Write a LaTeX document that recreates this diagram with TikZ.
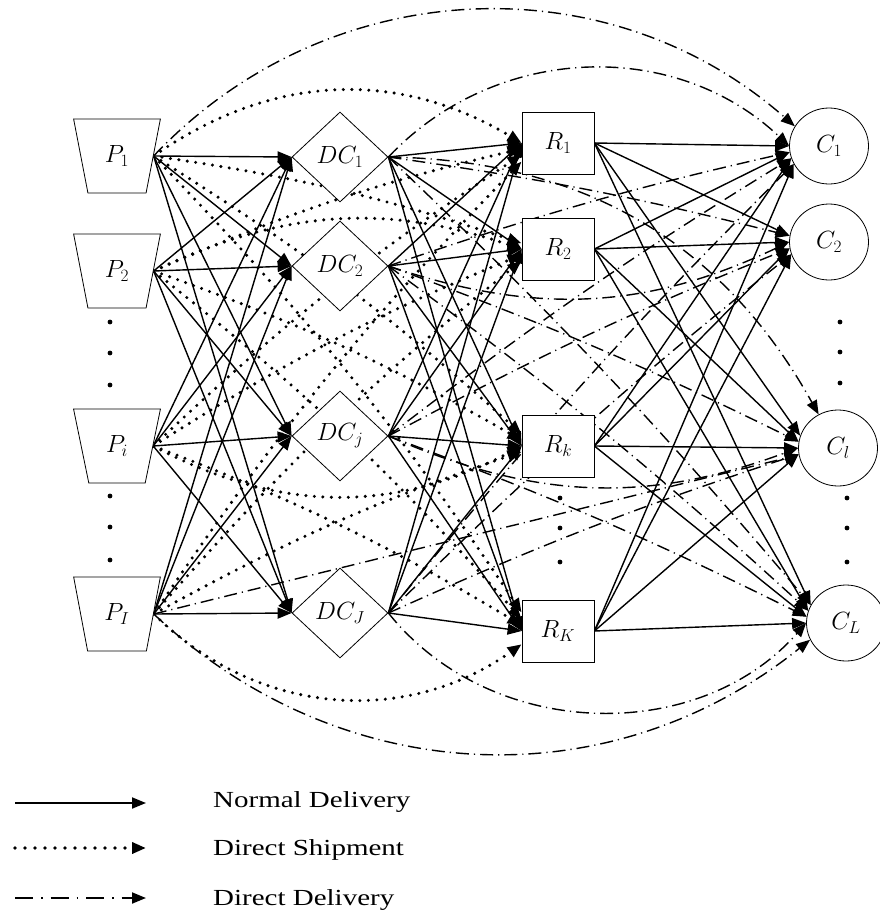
\documentclass[tikz,border=0pt]{standalone}
\usepackage{fontspec}
\setmainfont{Liberation Serif}
\newfontfamily\legendfont[FakeStretch=1.26]{Liberation Serif}
\usepackage{amsmath}
\usetikzlibrary{shapes.geometric,arrows.meta}
\pgfdeclarelayer{background}
\pgfsetlayers{background,main}

\begin{document}
\begin{tikzpicture}[x=1pt,y=-1pt,
    every node/.style={font=\fontsize{24}{28}\selectfont},
    plant/.style={draw, fill=white, line width=0.8pt, trapezium, shape border rotate=180, trapezium angle=74,
      trapezium stretches=true, minimum width=87pt, minimum height=74pt, inner sep=0pt},
    dcen/.style={draw, fill=white, line width=0.8pt, diamond, minimum width=96pt, minimum height=90pt, inner sep=0pt},
    retailer/.style={draw, fill=white, line width=0.8pt, minimum width=72pt, minimum height=62pt, inner sep=0pt},
    customer/.style={draw, fill=white, line width=0.8pt, ellipse, minimum width=79pt, minimum height=76pt, inner sep=0pt},
    legend/.style={anchor=base west, inner sep=0pt, font=\legendfont\fontsize{23}{26}\selectfont},
    headtip/.style={-{Triangle[length=14pt,width=11pt]}},
    normaldel/.style={headtip, line width=1.4pt},
    shipdel/.style={headtip, line width=3.4pt, line cap=round, dash pattern=on 0pt off 8.5pt},
    directdel/.style={headtip, line width=1.4pt, dash pattern=on 13pt off 5pt on 1.2pt off 5pt}]
\useasboundingbox (0,0) rectangle (880,911);

% plants, DCs, retailers, customers
\node[plant] (P1) at (117,156) {$P_1$};
\node[plant] (P2) at (117,271) {$P_2$};
\node[plant] (Pi) at (117,446) {$P_i$};
\node[plant] (PI) at (117,614) {$P_I$};

\node[dcen] (D1) at (340,157) {$DC_1$};
\node[dcen] (D2) at (340,266) {$DC_2$};
\node[dcen] (Dj) at (340,436) {$DC_j$};
\node[dcen] (DJ) at (340,613) {$DC_J$};

\node[retailer] (R1) at (558,143) {$R_1$};
\node[retailer] (R2) at (558,249) {$R_2$};
\node[retailer] (Rk) at (558,446) {$R_k$};
\node[retailer] (RK) at (558,631) {$R_K$};

\node[customer] (C1) at (829,146) {$C_1$};
\node[customer] (C2) at (829,242) {$C_2$};
\node[customer] (Cl) at (838,448) {$C_l$};
\node[customer] (CL) at (846,623) {$C_L$};

\foreach \y in {322,353,385,496,527,560} \fill (110,\y) circle (2.4pt);
\foreach \y in {498,528,562} \fill (560,\y) circle (2.4pt);
\foreach \y in {322,352,383} \fill (840,\y) circle (2.4pt);
\foreach \y in {498,528,562} \fill (847,\y) circle (2.4pt);

\begin{pgfonlayer}{background}
% direct shipment P -> R
\foreach \p/\i in {P1/1,P2/2,Pi/3,PI/4}
  \foreach \r/\k in {R1/1,R2/2,Rk/3,RK/4} {
    \pgfmathtruncatemacro\ang{\i==4 && \k==4 ? 200 : 180+9*(\i-\k)}
    \pgfmathtruncatemacro\bnd{\i==\k ? (\i==1 ? 33 : (\i==2 ? 22 : (\i==3 ? -28 : -40))) : 5}
    \draw[shipdel] (\p.0) to[bend left=\bnd] (\r.\ang);
  }

% direct delivery DC -> C
\foreach \d/\j in {D1/1,D2/2,Dj/3,DJ/4}
  \foreach \c/\l in {C1/1,C2/2,Cl/3,CL/4} {
    \pgfmathtruncatemacro\ang{\j==1 && \l==3 ? 120 : 180+9*(\j-\l)}
    \pgfmathtruncatemacro\bnd{\j==\l ? (\j==1 ? 45 : (\j==4 ? -50 : -22)) : (\j==1 && \l==3 ? 30 : 3)}
    \draw[directdel] (\d.east) to[bend left=\bnd] (\c.\ang);
  }
\draw[directdel] (P1.0) to[bend left=44] (C1.150);
\draw[directdel] (PI.0) to[bend right=41] (CL.205);
\draw[directdel] (PI.0) -- (Cl.190);

% normal delivery
\foreach \p in {P1,P2,Pi,PI}
  \foreach \d in {D1,D2,Dj,DJ}
    \draw[normaldel] (\p.0) -- (\d.west);
\foreach \d in {D1,D2,Dj,DJ}
  \foreach \r in {R1,R2,Rk,RK}
    \draw[normaldel] (\d.east) -- (\r.west);
\foreach \r/\a in {R1/1,R2/2,Rk/3,RK/4}
  \foreach \c/\b in {C1/1,C2/2,Cl/3,CL/4} {
    \pgfmathtruncatemacro\ang{180+9*(\a-\b)}
    \draw[normaldel] (\r.east) -- (\c.\ang);
  }
\end{pgfonlayer}

% legend
\coordinate (na) at (15,803);  \coordinate (nb) at (146,803);
\coordinate (sa) at (15,848);  \coordinate (sb) at (146,848);
\coordinate (da) at (15,898);  \coordinate (db) at (146,898);
\draw[normaldel, line width=1.9pt] (na) -- (nb);
\draw[shipdel, line width=3.6pt, dash pattern=on 0pt off 10pt] (sa) -- (sb);
\draw[directdel, line width=1.9pt, dash pattern=on 18pt off 8pt on 1.5pt off 8pt] (da) -- (db);
\node[legend] (nt) at (213,807) {Normal Delivery};
\node[legend] (st) at (213,855) {Direct Shipment};
\node[legend] (dt) at (213,905) {Direct Delivery};
\end{tikzpicture}
\end{document}
